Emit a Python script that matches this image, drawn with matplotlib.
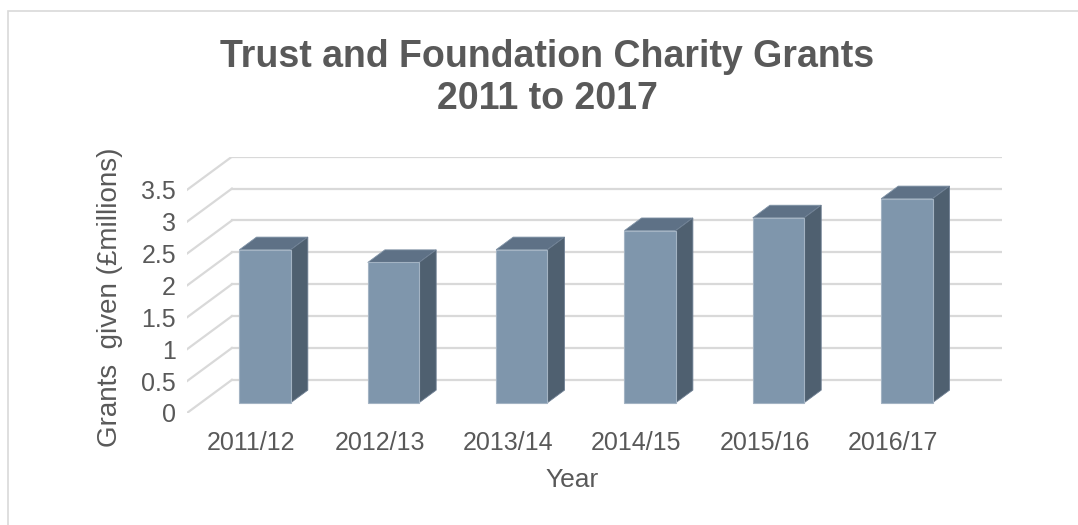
import numpy as np
import matplotlib.pyplot as plt
from matplotlib.patches import Polygon, Rectangle

years = ['2011/12', '2012/13', '2013/14', '2014/15', '2015/16', '2016/17']
grants = [2.4, 2.2, 2.4, 2.7, 2.9, 3.2]
y_ticks = [0, 0.5, 1, 1.5, 2, 2.5, 3, 3.5]

plt.rcParams['font.family'] = ['Liberation Sans', 'DejaVu Sans']
text_col = '#595959'
grid_col = '#d9d9d9'
face_front = '#7f96ac'
face_top = '#5e7186'
face_side = '#4f6070'

# oblique depth offset of the back wall, in data units
DX, DY = 0.35, 0.52
d_front, d_back = 0.31, 0.69
bar_w = 0.40

W, H = 1078, 525
fig = plt.figure(figsize=(W / 100, H / 100), dpi=100)

# chart area border (only the top/left edges fall inside the image)
fig.patches.append(Rectangle((8 / W, -0.1), 1.2, (H - 11) / H + 0.1,
                             transform=fig.transFigure, fill=False,
                             edgecolor='#d9d9d9', linewidth=1.2))

ax = fig.add_axes([187 / W, (H - 413) / H, (1002 - 187) / W, (413 - 156.7) / H])
n = len(years)
x = np.arange(n)
ax.set_xlim(-0.5, n - 0.5 + DX)
ax.set_ylim(0, y_ticks[-1] + DY)
for s in ax.spines.values():
    s.set_visible(False)

# back wall gridlines and side wall diagonals
for v in y_ticks:
    ax.plot([-0.5 + DX, n - 0.5 + DX], [v + DY, v + DY], color=grid_col, lw=1.6, zorder=1)
    ax.plot([-0.5, -0.5 + DX], [v, v + DY], color=grid_col, lw=1.6, zorder=1)

# front faces of the bars
xf = x + d_front * DX
ax.bar(xf, grants, width=bar_w, bottom=d_front * DY, color=face_front,
       edgecolor='#a3b3c3', linewidth=0.8, zorder=3)

for xi, v in zip(x, grants):
    l = xi - bar_w / 2
    r = xi + bar_w / 2
    top = [(l + d_front * DX, v + d_front * DY), (r + d_front * DX, v + d_front * DY),
           (r + d_back * DX, v + d_back * DY), (l + d_back * DX, v + d_back * DY)]
    side = [(r + d_front * DX, d_front * DY), (r + d_back * DX, d_back * DY),
            (r + d_back * DX, v + d_back * DY), (r + d_front * DX, v + d_front * DY)]
    ax.add_patch(Polygon(top, closed=True, facecolor=face_top, edgecolor='#8093a6',
                         linewidth=0.6, zorder=2))
    ax.add_patch(Polygon(side, closed=True, facecolor=face_side, edgecolor='#6f8094',
                         linewidth=0.6, zorder=2))

ax.set_yticks(y_ticks)
ax.set_yticklabels([f'{t:g}' for t in y_ticks])
ax.set_xticks(x)
ax.set_xticklabels(years)
ax.tick_params(axis='y', length=0, pad=8, labelsize=18, labelcolor=text_col)
ax.tick_params(axis='x', length=0, pad=13, labelsize=18, labelcolor=text_col)

ax.set_xlabel('Year', fontsize=19, color=text_col)
ax.xaxis.set_label_coords((2.5 + 0.5) / (n + DX), -0.215)
ax.set_ylabel('Grants  given (£millions)', fontsize=20, color=text_col)
ax.yaxis.set_label_coords(-0.078, 0.45)

title_kw = dict(ha='center', va='baseline', fontsize=27, fontweight='bold', color=text_col)
fig.text(547 / W, 1 - 66.7 / H, 'Trust and Foundation Charity Grants', **title_kw)
fig.text(547 / W, 1 - 109.3 / H, '2011 to 2017', **title_kw)

fig.savefig('out.png', dpi=100)
